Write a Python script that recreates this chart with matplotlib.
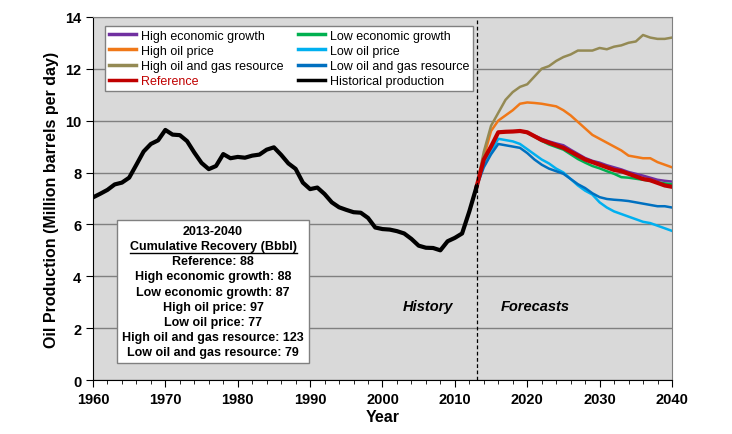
import matplotlib.pyplot as plt
import numpy as np

plt.rcParams['font.family'] = ['Liberation Sans', 'DejaVu Sans']

# historical production
hist_years = list(range(1960, 2014))
hist = [7.04, 7.18, 7.33, 7.54, 7.61, 7.80, 8.30, 8.81, 9.10, 9.24,
        9.64, 9.46, 9.44, 9.21, 8.77, 8.37, 8.13, 8.25, 8.71, 8.55,
        8.60, 8.57, 8.65, 8.69, 8.88, 8.97, 8.68, 8.35, 8.14, 7.61,
        7.36, 7.42, 7.17, 6.85, 6.66, 6.56, 6.47, 6.45, 6.25, 5.88,
        5.82, 5.80, 5.74, 5.65, 5.44, 5.18, 5.10, 5.09, 5.00, 5.35,
        5.48, 5.65, 6.50, 7.45]

# forecasts 2013-2040
fc_years = list(range(2013, 2041))
high_econ = [7.45, 8.5, 9.0, 9.55, 9.57, 9.58, 9.6, 9.55, 9.42, 9.3, 9.2, 9.12, 9.05, 8.88,
             8.72, 8.56, 8.45, 8.38, 8.28, 8.2, 8.12, 8.02, 7.95, 7.88, 7.8, 7.72, 7.68, 7.65]
low_econ = [7.45, 8.5, 9.0, 9.55, 9.57, 9.58, 9.6, 9.52, 9.38, 9.22, 9.08, 8.98, 8.88, 8.7,
            8.52, 8.38, 8.25, 8.16, 8.05, 7.95, 7.82, 7.8, 7.76, 7.72, 7.68, 7.62, 7.58, 7.55]
high_price = [7.45, 8.6, 9.6, 10.0, 10.2, 10.4, 10.65, 10.7, 10.68, 10.65, 10.6, 10.55, 10.4, 10.2,
              9.95, 9.7, 9.45, 9.3, 9.15, 9.0, 8.85, 8.65, 8.6, 8.55, 8.55, 8.4, 8.3, 8.2]
low_price = [7.45, 8.3, 8.8, 9.3, 9.25, 9.2, 9.1, 8.9, 8.7, 8.5, 8.35, 8.15, 8.0, 7.75,
             7.5, 7.3, 7.15, 6.85, 6.65, 6.5, 6.4, 6.3, 6.2, 6.1, 6.05, 5.95, 5.85, 5.75]
high_res = [7.45, 8.8, 9.8, 10.3, 10.8, 11.1, 11.3, 11.4, 11.7, 12.0, 12.1, 12.3, 12.45, 12.55,
            12.7, 12.7, 12.7, 12.8, 12.75, 12.85, 12.9, 13.0, 13.05, 13.3, 13.2, 13.15, 13.15, 13.2]
low_res = [7.45, 8.2, 8.7, 9.1, 9.05, 9.0, 8.95, 8.75, 8.5, 8.3, 8.15, 8.05, 7.95, 7.75,
           7.55, 7.4, 7.2, 7.05, 6.98, 6.95, 6.93, 6.9, 6.85, 6.8, 6.75, 6.7, 6.7, 6.65]
reference = [7.45, 8.5, 9.0, 9.55, 9.57, 9.58, 9.6, 9.55, 9.4, 9.25, 9.15, 9.05, 8.95, 8.8,
             8.65, 8.5, 8.4, 8.3, 8.2, 8.1, 8.05, 7.95, 7.85, 7.75, 7.7, 7.6, 7.5, 7.45]

box_lines = ['2013-2040', 'Cumulative Recovery (Bbbl)', 'Reference: 88',
             'High economic growth: 88', 'Low economic growth: 87', 'High oil price: 97',
             'Low oil price: 77', 'High oil and gas resource: 123',
             'Low oil and gas resource: 79']

fig = plt.figure(figsize=(7.32, 4.35), dpi=100)
ax = fig.add_axes([0.127, 0.124, 0.791, 0.835])
ax.set_facecolor('#D9D9D9')

ax.plot(fc_years, high_econ, color='#7030A0', lw=1.8, label='High economic growth')
ax.plot(fc_years, low_econ, color='#00B050', lw=1.8, label='Low economic growth')
ax.plot(fc_years, high_price, color='#F07818', lw=1.8, label='High oil price')
ax.plot(fc_years, low_price, color='#00B0F0', lw=1.8, label='Low oil price')
ax.plot(fc_years, high_res, color='#948A54', lw=1.8, label='High oil and gas resource')
ax.plot(fc_years, low_res, color='#0070C0', lw=1.8, label='Low oil and gas resource')
ax.plot(fc_years, reference, color='#C00000', lw=3, label='Reference')
ax.plot(hist_years, hist, color='black', lw=3, label='Historical production', zorder=5)

ax.axvline(2013, color='black', lw=0.9, ls=(0, (3, 2)))

ax.set_xlim(1960, 2040)
ax.set_ylim(0, 14)
ax.set_xticks(range(1960, 2041, 10))
ax.set_xticks(range(1960, 2041, 2), minor=True)
ax.set_yticks(range(0, 15, 2))
ax.yaxis.grid(True, color='#808080', lw=1)
ax.set_axisbelow(True)
ax.tick_params(axis='both', which='major', direction='out', length=5, labelsize=10.5)
ax.tick_params(axis='x', which='minor', direction='out', length=3)
for lab in ax.get_xticklabels() + ax.get_yticklabels():
    lab.set_fontweight('bold')
for s in ['top', 'right']:
    ax.spines[s].set_color('#808080')
ax.set_xlabel('Year', fontsize=11.5, fontweight='bold', labelpad=2)
ax.set_ylabel('Oil Production (Million barrels per day)', fontsize=11.5, fontweight='bold')

h, l = ax.get_legend_handles_labels()
order = [0, 2, 4, 6, 1, 3, 5, 7]
leg = ax.legend([h[i] for i in order], [l[i] for i in order], ncol=2, loc='upper left',
                bbox_to_anchor=(0.021, 0.975), borderaxespad=0, fontsize=9, fancybox=False,
                framealpha=1, edgecolor='#808080', handlelength=2.2, labelspacing=0.25,
                columnspacing=1.1, borderpad=0.3, handletextpad=0.4)
leg.get_frame().set_linewidth(1)
for line in leg.get_lines():
    line.set_linewidth(2.5)
leg.get_texts()[3].set_color('#C00000')

ax.text(2009.8, 2.85, 'History', fontsize=10.5, fontweight='bold', style='italic',
        ha='right', va='center')
ax.text(2016.3, 2.85, 'Forecasts', fontsize=10.5, fontweight='bold', style='italic',
        ha='left', va='center')

box = ax.text(1976.6, 3.41, '\n'.join(box_lines), fontsize=9, fontweight='bold',
              ha='center', va='center', linespacing=1.35,
              bbox=dict(boxstyle='square,pad=0.4', fc='white', ec='#808080', lw=1))

# underline the second line of the box
fig.canvas.draw()
r = fig.canvas.get_renderer()
tmp = ax.text(0, 0, box_lines[1], fontsize=9, fontweight='bold')
w = tmp.get_window_extent(r).width
tmp.remove()
bb = box.get_window_extent(r)
cx = (bb.x0 + bb.x1) / 2
line_h = bb.height / len(box_lines)
uy = bb.y1 - 2 * line_h + 2
inv = fig.transFigure.inverted()
p0 = inv.transform((cx - w / 2, uy))
p1 = inv.transform((cx + w / 2, uy))
fig.add_artist(plt.Line2D([p0[0], p1[0]], [p0[1], p1[1]], color='black', lw=1,
                          transform=fig.transFigure))

fig.savefig('out.png', dpi=100)
